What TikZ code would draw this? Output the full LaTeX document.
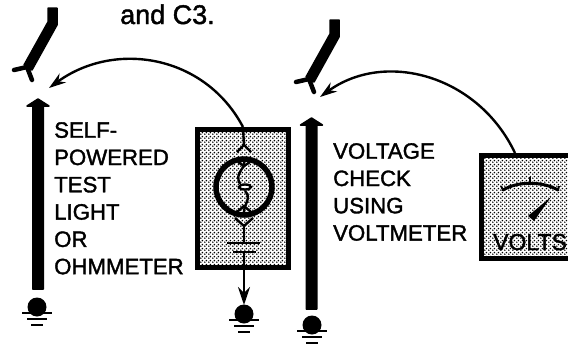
\documentclass[tikz,border=0pt]{standalone}
\usepackage{fontspec}
\setmainfont{Liberation Sans}[FakeBold=1.6]
\usetikzlibrary{arrows.meta,patterns}
\pgfdeclarepatternformonly{halftone}{\pgfpointorigin}{\pgfqpoint{4pt}{4pt}}{\pgfqpoint{4pt}{4pt}}{
  \pgfpathcircle{\pgfqpoint{1pt}{1pt}}{1.05pt}
  \pgfpathcircle{\pgfqpoint{3pt}{3pt}}{1.05pt}
  \pgfusepath{fill}
}
\tikzset{
  lbl/.style={anchor=north west,inner sep=0pt,align=left,font=\fontsize{22.2}{27.3}\selectfont},
  stipple/.style={draw,line width=5pt,pattern=halftone,inner sep=0pt,anchor=north west},
  wire/.style={line width=2.4pt},
  solid/.style={fill=black,draw=black,line width=1.5pt,line join=round}
}
\begin{document}
\begin{tikzpicture}[x=1pt,y=-1pt]
  \clip (0,0) rectangle (568,343);

  \node[inner sep=0pt,anchor=base west,font=\fontsize{27}{27}\selectfont] (note) at (120,24) {and C3.};
  \node[lbl] (selftext) at (54,122) {SELF-\\POWERED\\TEST\\LIGHT\\OR\\OHMMETER};
  \node[lbl] (volttext) at (333,143) {VOLTAGE\\CHECK\\USING\\VOLTMETER};

  \foreach \dx/\dy in {0/0, 282/12} {
    \begin{scope}[shift={(\dx,\dy)}]
      \draw[solid] (48,8) -- (57,8) -- (57,25) -- (32,70) -- (24,65) -- (48,22) -- cycle;
      \draw[line width=4.5pt,line cap=round,line join=round] (14,70) -- (27,67) -- (32,80);
    \end{scope}
  }

  \foreach \bx/\btop/\bbot in {38/98/289, 311.5/117/309} {
    \draw[solid] (\bx-5.25,\bbot) -- (\bx-5.25,\btop+8) -- (\bx-11,\btop+8) -- (\bx,\btop+1)
      -- (\bx+11,\btop+8) -- (\bx+5.25,\btop+8) -- (\bx+5.25,\bbot) -- cycle;
  }

  \foreach \gx/\gy in {37/307, 244/314, 312/325} {
    \fill (\gx,\gy) circle (9.5);
    \draw[line width=2.5pt] (\gx-15,\gy+6) -- (\gx+15,\gy+6);
    \draw[line width=2.5pt] (\gx-10,\gy+12) -- (\gx+10,\gy+12);
    \draw[line width=2.5pt] (\gx-6,\gy+18) -- (\gx+6,\gy+18);
  }

  \node[stipple,minimum width=91pt,minimum height=138pt] (testbox) at (195,127) {};
  \node[stipple,minimum width=110pt,minimum height=103pt] (meterbox) at (479,153) {};

  \coordinate (lefttip) at (49,88);
  \coordinate (righttip) at (320,97);
  \coordinate (meterpoint) at (515,153);
  \coordinate (batterytop) at (244,243);
  \coordinate (batterybot) at (244,252);
  \coordinate (earthtip) at (244,305);

  \draw[wire,-{Stealth[length=17pt,width=11pt]}] (testbox.north) .. controls (205,55) and (115,40) .. (lefttip);
  \draw[wire,-{Stealth[length=17pt,width=11pt]}] (meterpoint) .. controls (478,75) and (385,50) .. (righttip);
  \draw[wire,-{Stealth[length=18pt,width=12pt]}] (batterybot) -- (earthtip);

  \node[circle,draw,line width=5.5pt,minimum size=56pt,inner sep=0pt] (lamp) at (244,187) {};

  \draw[wire] (testbox.north) -- (244,145);
  \draw[wire] (237,152) -- (244,145) -- (251,152);
  \draw[wire] (244,161) -- (244,166) .. controls (236,176) and (238,180) .. (240,184);
  \draw[wire] (245,191) .. controls (252,198) and (244,204) .. (244,212);
  \draw[wire] (238,162) -- (244,166) -- (250,162);
  \draw[wire] (237,212) -- (244,206) -- (251,212);
  \draw[wire,fill=white] (245,187) ellipse (6 and 2.5);
  \draw[wire] (235,218) -- (244,226) -- (253,218);
  \draw[wire] (244,226) -- (batterytop);
  \draw[line width=2.5pt] (227,243) -- (260,243);
  \draw[line width=2.5pt] (233,252) -- (256,252);

  \draw[line width=3pt,line cap=round] (503,190) .. controls (518,181) and (542,181) .. (558,190);
  \draw[line width=2pt] (530,177) -- (530,185);
  \draw[line width=2pt] (503,190) -- (501,186);
  \draw[line width=2pt] (558,190) -- (559,186);
  \fill (551,197) -- (534,221) -- (528,216) -- cycle;

  \node[inner sep=0pt,anchor=base west,font=\fontsize{23}{23}\selectfont] (voltsign) at (493,250) {VOLTS};
\end{tikzpicture}
\end{document}
